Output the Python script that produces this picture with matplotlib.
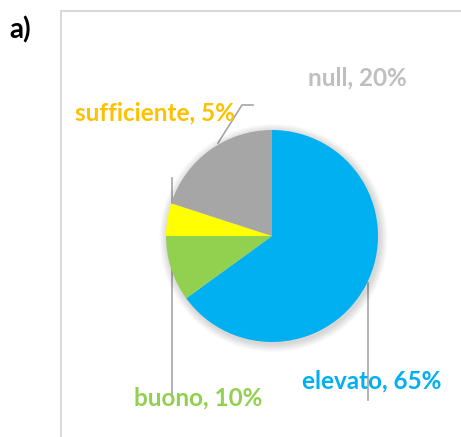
import matplotlib
matplotlib.use("Agg")
import matplotlib.pyplot as plt
from matplotlib.patches import Circle, Rectangle

# chart data
categorie = ["elevato", "buono", "sufficiente", "null"]
percentuali = [65, 10, 5, 20]
colori = ["#00B0F0", "#92D050", "#FFFF00", "#A6A6A6"]
colori_testo = ["#00B0F0", "#92D050", "#FFC000", "#BFBFBF"]

W, H = 461, 437
fig = plt.figure(figsize=(W / 100, H / 100), dpi=100)
ax = fig.add_axes([0, 0, 1, 1])

cx, cy, r = 272, H - 236, 106

# soft shadow under the pie
for k in range(8):
    ax.add_patch(Circle((cx + 1.5, cy - 2), r + 8 - k, color="black",
                        alpha=0.018, lw=0, zorder=1))

# leader lines (drawn behind the pie like the original)
ax.plot([172, 172], [H - 178, H - 395], color="#A6A6A6", lw=1.2, zorder=0.5)
ax.plot([368, 368], [H - 283, H - 400], color="#A6A6A6", lw=1.2, zorder=0.5)
ax.plot([218, 242, 253], [H - 143, H - 105, H - 105], color="#A6A6A6",
        lw=1.2, zorder=0.5)

wedges, _ = ax.pie(percentuali, colors=colori, startangle=90, counterclock=False,
                   center=(cx, cy), radius=r, wedgeprops=dict(linewidth=0))
for w in wedges:
    w.set_zorder(2)

# data labels
pos_etichette = [(372, H - 381), (198, H - 398), (155, H - 113), (357, H - 78)]
for cat, p, col, (x, y) in zip(categorie, percentuali, colori_testo, pos_etichette):
    ax.text(x, y, f"{cat}, {p}%", color=col, fontsize=17.5, fontweight="bold",
            family="Lato", ha="center", va="center", zorder=3)

# chart area border
ax.add_patch(Rectangle((61, H - 11 - 600), 600, 600, fill=False,
                       edgecolor="#D9D9D9", lw=1.5, zorder=0))

fig.text(9 / W, 1 - 30 / H, "a)", fontsize=20, fontweight="bold",
         family="Lato", va="center", ha="left")

ax.set_xlim(0, W)
ax.set_ylim(0, H)
ax.set_aspect("auto")
ax.axis("off")

fig.savefig("out.png", dpi=100)
